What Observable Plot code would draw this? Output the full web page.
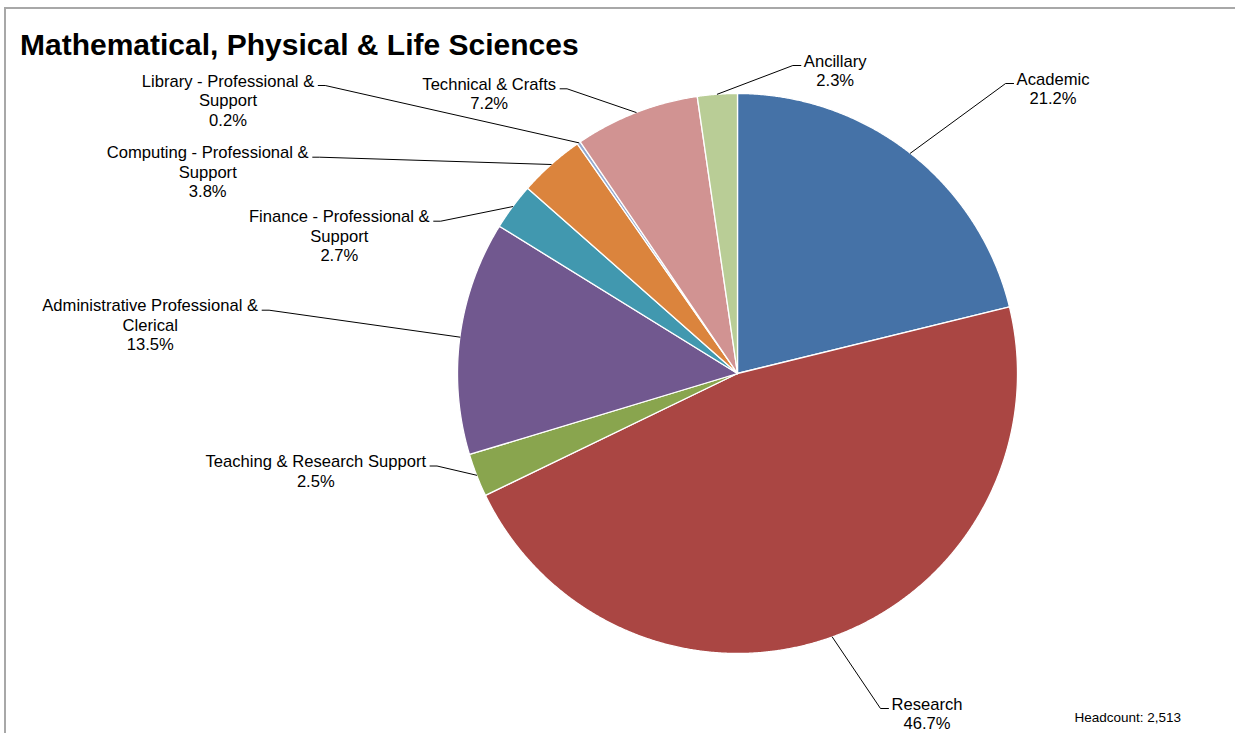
<!DOCTYPE html>
<html><head><meta charset="utf-8">
<script src="https://cdn.jsdelivr.net/npm/d3@7"></script>
<script src="https://cdn.jsdelivr.net/npm/@observablehq/plot@0.6"></script>
<style>
body{margin:0;background:#fff;font-family:"Liberation Sans",Arial,sans-serif;}
#wrap{position:relative;width:1235px;height:733px;overflow:hidden;background:#fff;}
#frame{position:absolute;left:4px;top:7px;width:1400px;height:900px;border-top:2px solid #a8a8a8;border-left:2px solid #a8a8a8;}
#chart{position:absolute;left:0;top:0;}
#title{position:absolute;left:20px;top:30px;margin:0;font:bold 30px/30px "Liberation Sans",Arial,sans-serif;color:#000;white-space:nowrap;}
</style></head><body>
<div id="wrap"><div id="frame"></div><div id="chart"></div><h1 id="title">Mathematical, Physical &amp; Life Sciences</h1></div>
<script>
// ---- data ----
const categories = ["Academic", "Research", "Teaching & Research Support", "Administrative Professional & Clerical",
  "Finance - Professional & Support", "Computing - Professional & Support", "Library - Professional & Support",
  "Technical & Crafts", "Ancillary"];
const shares = [21.2, 46.7, 2.5, 13.5, 2.7, 3.8, 0.2, 7.2, 2.3];
const labelLines = [["Academic"], ["Research"], ["Teaching & Research Support"], ["Administrative Professional &", "Clerical"],
  ["Finance - Professional &", "Support"], ["Computing - Professional &", "Support"], ["Library - Professional &", "Support"],
  ["Technical & Crafts"], ["Ancillary"]];
const headcount = "2,513";
const colors = ["#4572A7", "#AA4643", "#89A54E", "#71588F", "#4198AF", "#DB843D", "#93A9CF", "#D19392", "#B9CD96"];

// ---- layout ----
const W = 1235, H = 733, CX = 737, CY = 373, R = 280;
const FS = 16.6, LH = 19.5;
// label block centre x, first-line baseline y, side of pie
const labelLayout = [
  {cx: 1052.5, by: 84, side: "right"},
  {cx: 926.5, by: 709, side: "right"},
  {cx: 315.3, by: 466.5, side: "left"},
  {cx: 149.7, by: 310.7, side: "left"},
  {cx: 338.8, by: 221.7, side: "left"},
  {cx: 207.2, by: 157.7, side: "left"},
  {cx: 227.5, by: 86, side: "left"},
  {cx: 488.7, by: 89.3, side: "left"},
  {cx: 834.7, by: 66, side: "right"}
];

const ctx = document.createElement("canvas").getContext("2d");
ctx.font = `${FS}px "Liberation Sans"`;

const arcs = d3.pie().sort(null).value(d => d)(shares);
const pt = (a, r) => [CX + r * Math.sin(a), CY - r * Math.cos(a)];

const slicePts = [];
arcs.forEach((a, i) => {
  const name = categories[i];
  slicePts.push({name, x: CX, y: CY});
  const n = Math.max(2, Math.ceil((a.endAngle - a.startAngle) / 0.004));
  for (let k = 0; k <= n; k++) {
    const ang = a.startAngle + (a.endAngle - a.startAngle) * k / n;
    const [x, y] = pt(ang, R);
    slicePts.push({name, x, y});
  }
  slicePts.push({name, x: CX, y: CY});
});

const leaders = [];
const texts = [];
arcs.forEach((a, i) => {
  const L = labelLayout[i];
  const lines = [...labelLines[i], shares[i].toFixed(1) + "%"];
  lines.forEach((t, j) => texts.push({text: t, x: L.cx, y: L.by + j * LH}));
  const w = ctx.measureText(lines[0]).width;
  const mid = (a.startAngle + a.endAngle) / 2;
  const [ex, ey] = pt(mid, R);
  const ly = L.by - 1;
  let endX, elbowX;
  if (L.side === "right") { endX = L.cx - w / 2 - 3; elbowX = L.cx - w / 2 - 11; }
  else { endX = L.cx + w / 2 + 4; elbowX = L.cx + w / 2 + 11; }
  leaders.push({name: categories[i], x: ex, y: ey}, {name: categories[i], x: elbowX, y: ly}, {name: categories[i], x: endX, y: ly});
});

const caption = [{text: `Headcount: ${headcount}`, x: 1074, y: 721.5}];

const chart = Plot.plot({
  width: W, height: H, margin: 0,
  style: {fontFamily: '"Liberation Sans", Arial, sans-serif', background: "transparent", color: "#000"},
  x: {domain: [0, W], range: [0, W], axis: null},
  y: {domain: [0, H], range: [0, H], axis: null},
  color: {domain: categories, range: colors, legend: false},
  marks: [
    Plot.line(slicePts, {x: "x", y: "y", z: "name", fill: "name", stroke: "white", strokeWidth: 1.3, curve: "linear"}),
    Plot.line(leaders, {x: "x", y: "y", z: "name", stroke: "#000", strokeWidth: 1, curve: "linear"}),
    Plot.text(texts, {x: "x", y: "y", text: "text", textAnchor: "middle", lineAnchor: "bottom", fontSize: FS, fill: "#000"}),
    Plot.text(caption, {x: "x", y: "y", text: "text", textAnchor: "start", lineAnchor: "bottom", fontSize: 13.5, fill: "#000"})
  ]
});
document.getElementById("chart").appendChild(chart);
</script>
</body></html>
